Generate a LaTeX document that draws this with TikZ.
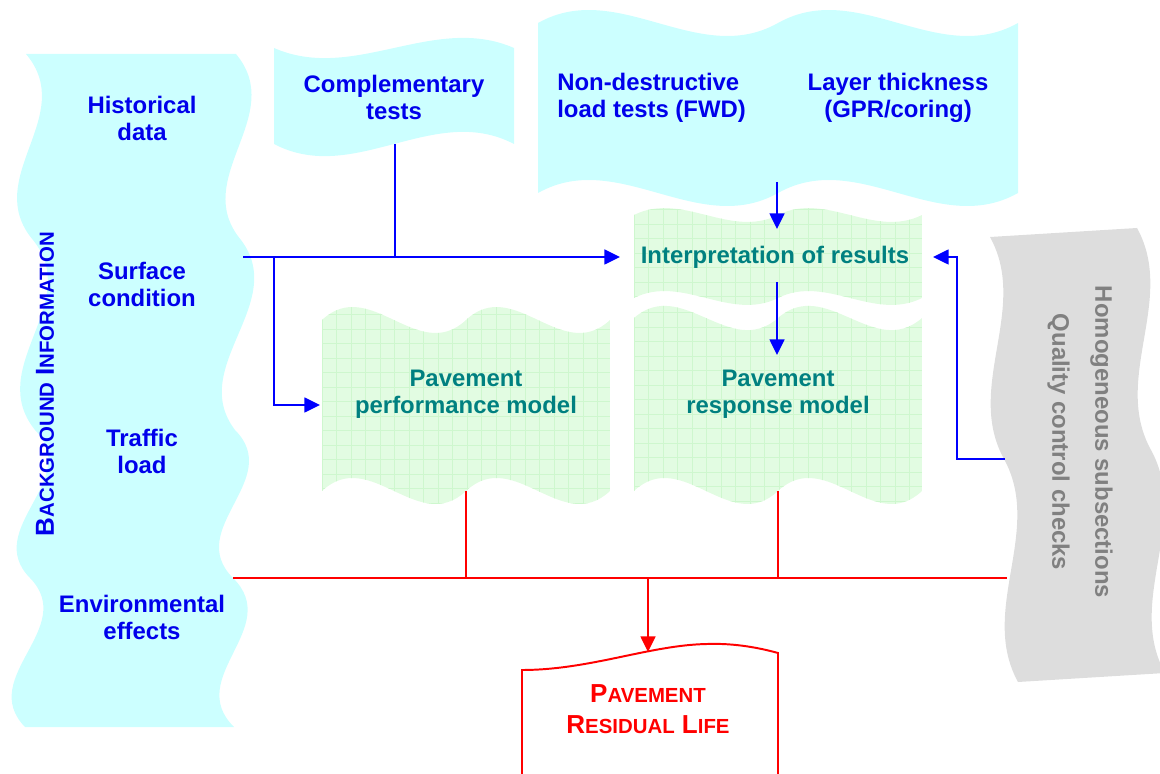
\documentclass[tikz,border=0pt]{standalone}
\usepackage{fontspec}
\setmainfont{Liberation Sans}
\usetikzlibrary{arrows.meta}
\usetikzlibrary{calc}

\definecolor{bandcyan}{RGB}{204,255,255}
\definecolor{gridgreen}{RGB}{226,252,226}
\definecolor{gridrule}{RGB}{206,247,206}
\definecolor{bandgray}{RGB}{221,221,221}
\definecolor{textblue}{RGB}{0,0,235}
\definecolor{textteal}{RGB}{0,128,128}
\definecolor{textgray}{RGB}{128,128,128}

% double wave edge, left to right and right to left
\newcommand{\wavefwd}[4]{ .. controls ({#1+(#2-#1)/6},{#3-#4}) and ({#1+(#2-#1)/3},{#3+#4}) .. ({(#1+#2)/2},#3) .. controls ({#1+2*(#2-#1)/3},{#3-#4}) and ({#1+5*(#2-#1)/6},{#3+#4}) .. (#2,#3)}
\newcommand{\waveback}[4]{ .. controls ({#1+5*(#2-#1)/6},{#3+#4}) and ({#1+2*(#2-#1)/3},{#3-#4}) .. ({(#1+#2)/2},#3) .. controls ({#1+(#2-#1)/3},{#3+#4}) and ({#1+(#2-#1)/6},{#3-#4}) .. (#1,#3)}

% green squared paper: x0, x1, top, bottom, top wave, bottom wave
\newcommand{\gridbox}[6]{%
  \begin{scope}
    \clip (#1,#3) \wavefwd{#1}{#2}{#3}{#5} -- (#2,#4) \waveback{#1}{#2}{#4}{#6} -- cycle;
    \fill[gridgreen] (#1,{#3-20}) rectangle (#2,{#4+20});
    \foreach \k in {0,...,20}
      \draw[gridrule, line width=0.4pt] ({#1+14.5*\k},{#3-20}) -- ({#1+14.5*\k},{#4+20});
    \foreach \k in {0,...,15}
      \draw[gridrule, line width=0.4pt] (#1,{#3-20+14.5*\k}) -- (#2,{#3-20+14.5*\k});
  \end{scope}}

% big first letter, small capitals after it
\newcommand{\fakesc}[2]{{\fontsize{18.5}{22}\selectfont #1}{\fontsize{14.5}{22}\selectfont #2}}

\begin{document}
\begin{tikzpicture}[x=0.025cm, y=-0.025cm,
  bluetext/.style={text=textblue, font=\bfseries\fontsize{17}{19.2}\selectfont, align=center, inner sep=0pt},
  tealtext/.style={text=textteal, font=\bfseries\fontsize{17}{19.2}\selectfont, align=center, inner sep=0pt},
  graytext/.style={text=textgray, font=\bfseries\fontsize{17}{19.2}\selectfont, align=center, inner sep=0pt},
  redtext/.style={text=red, font=\bfseries\fontsize{18.5}{22}\selectfont, align=center, inner sep=0pt},
  blueline/.style={draw=blue, line width=1.4pt},
  redline/.style={draw=red, line width=1.4pt},
  arr/.style={-{Triangle[length=3.9mm,width=3.7mm]}}]

\useasboundingbox (0,0) rectangle (1160,774);
\clip (0,0) rectangle (1160,774);

% Background information band
\fill[bandcyan] (26,54) .. controls (78.3,116) and (-19.3,178) .. (33,240)
  .. controls (83.7,303.3) and (-15.7,366.7) .. (35,430)
  .. controls (83.3,479.3) and (-18.3,528.7) .. (30,578)
  .. controls (78.3,627.7) and (-23.3,677.3) .. (25,727)
  -- (234,727) .. controls (183.7,677.3) and (283.3,627.7) .. (233,578)
  .. controls (183.7,528.7) and (284.3,479.3) .. (235,430)
  .. controls (187,366.7) and (289,303.3) .. (241,240)
  .. controls (189.3,178) and (287.7,116) .. (236,54) -- cycle;

% Complementary tests flag
\fill[bandcyan] (274,48) .. controls (354,83) and (434,13) .. (514,48)
  -- (514,144) .. controls (434,102) and (354,186) .. (274,144) -- cycle;

% Field tests banner
\fill[bandcyan] (538,23) \wavefwd{538}{1018}{23}{45} -- (1018,193) \waveback{538}{1018}{193}{45} -- cycle;

% Squared papers
\gridbox{634}{922}{215}{298}{24}{24}
\gridbox{322}{610}{320}{491}{45}{45}
\gridbox{634}{922}{318}{491}{42}{45}

% Subsections band
\fill[bandgray] (990,237) .. controls (1029.6,308.8) and (964.4,387.2) .. (1004,459)
  .. controls (1043.6,531.1) and (978.4,609.9) .. (1018,682)
  -- (1165,673) .. controls (1125.4,600.9) and (1190.6,522.1) .. (1151,450)
  .. controls (1111.4,378.2) and (1176.6,299.8) .. (1137,228) -- cycle;

% Residual life sheet
\draw[redline] (522,790) -- (522,670) .. controls (590,670) and (650,645) .. (707,644)
  .. controls (735,643) and (760,648) .. (778,653) -- (778,790);

% Texts
\node[bluetext] (hist) at (142,118) {Historical\\data};
\node[bluetext] (surf) at (142,284) {Surface\\condition};
\node[bluetext] (traf) at (142,451) {Traffic\\load};
\node[bluetext] (env) at (142,617) {Environmental\\effects};
\node[bluetext, rotate=90] (bginfo) at (45,384) {\fakesc{B}{ACKGROUND} \fakesc{I}{NFORMATION}};
\node[bluetext] (comp) at (394,97) {Complementary\\tests};
\node[bluetext, align=left, anchor=west] (ndt) at (557,98) {Non-destructive\\load tests (FWD)};
\node[bluetext] (layer) at (898,98) {Layer thickness\\(GPR/coring)};
\node[tealtext] (interp) at (775,257) {Interpretation of results};
\node[tealtext] (perf) at (466,394) {Pavement\\performance model};
\node[tealtext] (resp) at (778,394) {Pavement\\response model};
\node[graytext, rotate=-90] (homog) at (1080,442) {Homogeneous subsections\\[0.4cm]Quality control checks};
\node[redtext] (life) at (648,709) {\fakesc{P}{AVEMENT}\\\fakesc{R}{ESIDUAL} \fakesc{L}{IFE}};

% Connector ends
\coordinate (bgOut) at (243,257);
\coordinate (split) at (274,257);
\coordinate (compOut) at (395,144);
\coordinate (interpW) at (620,257);
\coordinate (perfW) at (320,405);
\coordinate (ndtOut) at (777,182);
\coordinate (interpN) at (777,229);
\coordinate (interpS) at (777,282);
\coordinate (respN) at (777,355);
\coordinate (grayOut) at (1005,459);
\coordinate (interpE) at (933,257);
\coordinate (envOut) at (233,578);
\coordinate (grayIn) at (1007,578);
\coordinate (perfS) at (466,491);
\coordinate (respS) at (778,491);
\coordinate (lifeN) at (648,652);

% Blue flow
\draw[blueline] (compOut) -- (compOut |- bgOut);
\draw[blueline, arr] (bgOut) -- (interpW);
\draw[blueline, arr] (split) |- (perfW);
\draw[blueline, arr] (ndtOut) -- (interpN);
\draw[blueline, arr] (interpS) -- (respN);
\draw[blueline, arr] (grayOut) -- ++(-48,0) |- (interpE);

% Red flow
\draw[redline] (envOut) -- (grayIn);
\draw[redline] (perfS) -- (perfS |- envOut);
\draw[redline] (respS) -- (respS |- envOut);
\draw[redline, arr] (lifeN |- envOut) -- (lifeN);

\end{tikzpicture}
\end{document}
